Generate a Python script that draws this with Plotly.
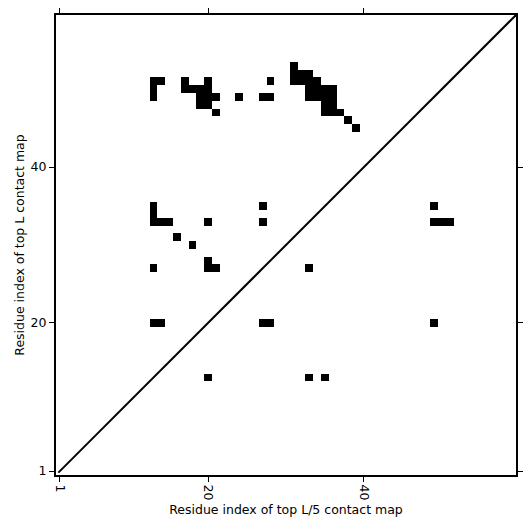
import plotly.graph_objects as go

L = 59  # sequence length

# Contacts (residue i on x, residue j on y)
contact_x = [13, 14, 13, 13,
             17, 20, 17, 18, 19, 20, 19, 20, 21, 19, 20, 21, 24, 27, 28, 28,
             31, 31, 32, 33, 31, 32, 33, 34, 33, 34, 35, 36, 33, 34, 35, 36,
             35, 36, 35, 36, 37, 38, 39,
             13, 13, 13, 14, 15, 20, 27, 27, 16, 18, 13, 20, 20, 21, 33,
             49, 49, 50, 51,
             13, 14, 27, 28, 49,
             20, 33, 35]
contact_y = [51, 51, 50, 49,
             51, 51, 50, 50, 50, 50, 49, 49, 49, 48, 48, 47, 49, 49, 49, 51,
             53, 52, 52, 52, 51, 51, 51, 51, 50, 50, 50, 50, 49, 49, 49, 49,
             48, 48, 47, 47, 47, 46, 45,
             35, 34, 33, 33, 33, 33, 35, 33, 31, 30, 27, 28, 27, 27, 27,
             35, 33, 33, 33,
             20, 20, 20, 20, 20,
             13, 13, 13]

tick_vals = [1, 20, 40]
tick_text = ["1", "20", "40"]
x_title = "Residue index of top L/5 contact map"
y_title = "Residue index of top L contact map"

idx = list(range(1, L + 1))
z = [[None] * L for _ in range(L)]
for cx, cy in zip(contact_x, contact_y):
    z[cy - 1][cx - 1] = 1

fig = go.Figure()
fig.add_trace(go.Heatmap(
    x=idx, y=idx, z=z,
    colorscale=[[0, "black"], [1, "black"]],
    zmin=0, zmax=1, showscale=False, hoverinfo="skip",
))
fig.add_trace(go.Scatter(
    x=[0.8, L + 0.5], y=[0.8, L + 0.5], mode="lines",
    line=dict(color="black", width=2), showlegend=False, hoverinfo="skip",
))

font = dict(family="DejaVu Sans", size=12.5, color="black")
axis_common = dict(
    range=[0.5, L + 0.5], tickvals=tick_vals, ticktext=tick_text,
    ticks="outside", ticklen=5, tickwidth=1, tickcolor="black",
    showline=True, linewidth=2, linecolor="black", mirror="ticks",
    showgrid=False, zeroline=False, tickfont=font,
)
fig.update_layout(
    width=523, height=523,
    margin=dict(l=48, r=15, t=7, b=56, autoexpand=False),
    paper_bgcolor="white", plot_bgcolor="white",
    font=font, showlegend=False,
    xaxis=dict(**axis_common, tickangle=90,
               title=dict(text=x_title, font=font, standoff=6)),
    yaxis=dict(**axis_common,
               title=dict(text=y_title, font=font, standoff=3)),
)
fig.write_html("out.html")
